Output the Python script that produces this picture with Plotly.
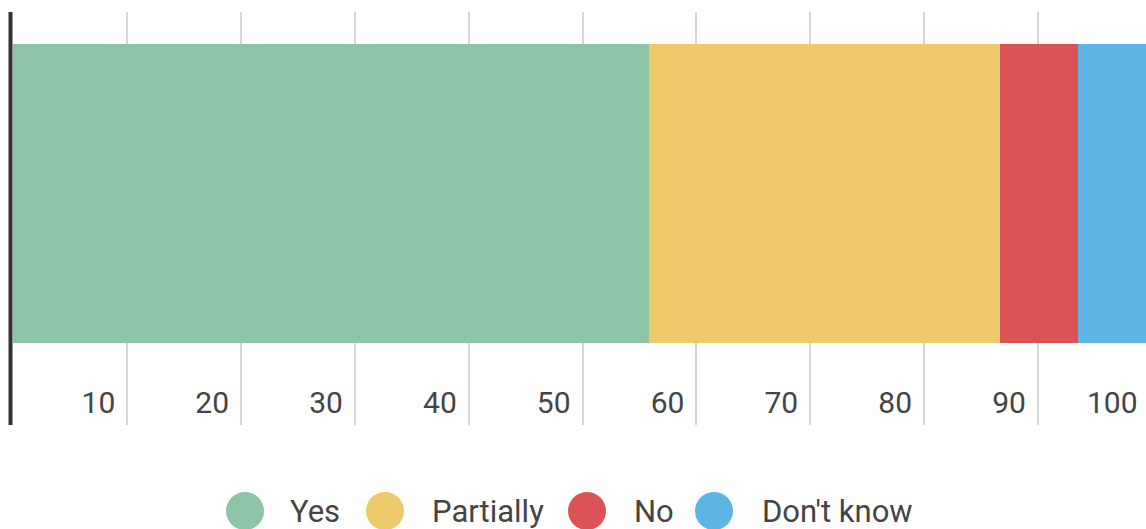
import plotly.graph_objects as go

# ---- data ----
categories = ["Yes", "Partially", "No", "Don't know"]
values = [55.8, 30.9, 6.8, 6.5]
colors = ["#8DC3A7", "#EFCA6B", "#DC5356", "#5EB5E5"]
tick_values = [10, 20, 30, 40, 50, 60, 70, 80, 90, 100]
tick_labels = ["10", "20", "30", "40", "50", "60", "70", "80", "90", "100"]

# ---- layout constants (pixels, page coords) ----
W, H = 1146, 529
ML, MR, MT, MB = 13, 0, 12, 104
PW = W - ML - MR
PH = H - MT - MB
X_MIN, X_MAX = -0.04, 99.5
legend_circle_px = [245, 385, 587, 714]
legend_text_px = [288, 430, 632, 760]
legend_y_px = 511
tick_label_y_px = 402
FONT = "Roboto"
TXT = "#444444"


def px_x(p):
    return (p - ML) / PW


def px_y(p):
    return (MT + PH - p) / PH


def data_to_paper_x(v):
    return (v - X_MIN) / (X_MAX - X_MIN)


fig = go.Figure()
for name, v, c in zip(categories, values, colors):
    fig.add_trace(go.Bar(
        x=[v], y=[0], orientation="h", width=1, name=name,
        marker=dict(color=c, line=dict(width=0)), showlegend=False,
        hoverinfo="x+name",
    ))

shapes = [
    dict(type="line", xref="paper", yref="paper", x0=px_x(10.5), x1=px_x(10.5),
         y0=0, y1=1, line=dict(color="#333333", width=4), layer="above"),
]
annotations = []
for name, c, cx, tx in zip(categories, colors, legend_circle_px, legend_text_px):
    shapes.append(dict(
        type="circle", xref="paper", yref="paper",
        xsizemode="pixel", ysizemode="pixel",
        xanchor=px_x(cx), yanchor=px_y(legend_y_px),
        x0=-19, x1=19, y0=-19, y1=19,
        fillcolor=c, line=dict(width=0),
    ))
    annotations.append(dict(
        xref="paper", yref="paper", x=px_x(tx), y=px_y(legend_y_px),
        xanchor="left", yanchor="middle", showarrow=False, text=name,
        font=dict(family=FONT, size=31, color=TXT),
    ))

# tick labels whose gridline lies just past the visible right edge
for tv, tl in zip(tick_values, tick_labels):
    if tv > X_MAX:
        annotations.append(dict(
            xref="paper", yref="paper", x=data_to_paper_x(tv),
            y=px_y(tick_label_y_px),
            xanchor="right", yanchor="middle", xshift=-12, showarrow=False,
            text=tl, font=dict(family=FONT, size=30, color=TXT),
        ))

fig.update_layout(
    width=W, height=H,
    margin=dict(l=ML, r=MR, t=MT, b=MB, pad=0),
    barmode="stack",
    plot_bgcolor="white", paper_bgcolor="white",
    showlegend=False,
    shapes=shapes, annotations=annotations,
    font=dict(family=FONT, size=30, color=TXT),
    xaxis=dict(
        range=[X_MIN, X_MAX], tickmode="array", tickvals=tick_values,
        ticktext=tick_labels, showgrid=True, gridcolor="#D6D6D6",
        gridwidth=2, zeroline=False, showline=False, ticks="",
        ticklabelposition="inside left", ticklabelshift=-12,
        tickfont=dict(family=FONT, size=30, color=TXT),
    ),
    yaxis=dict(
        range=[-0.774, 0.607], showgrid=False, zeroline=False,
        showticklabels=False, showline=False, ticks="",
    ),
)

fig.write_html(
    "out.html",
    config={"displayModeBar": False},
    post_script="document.body.style.margin='0';document.body.style.overflow='hidden';",
)
